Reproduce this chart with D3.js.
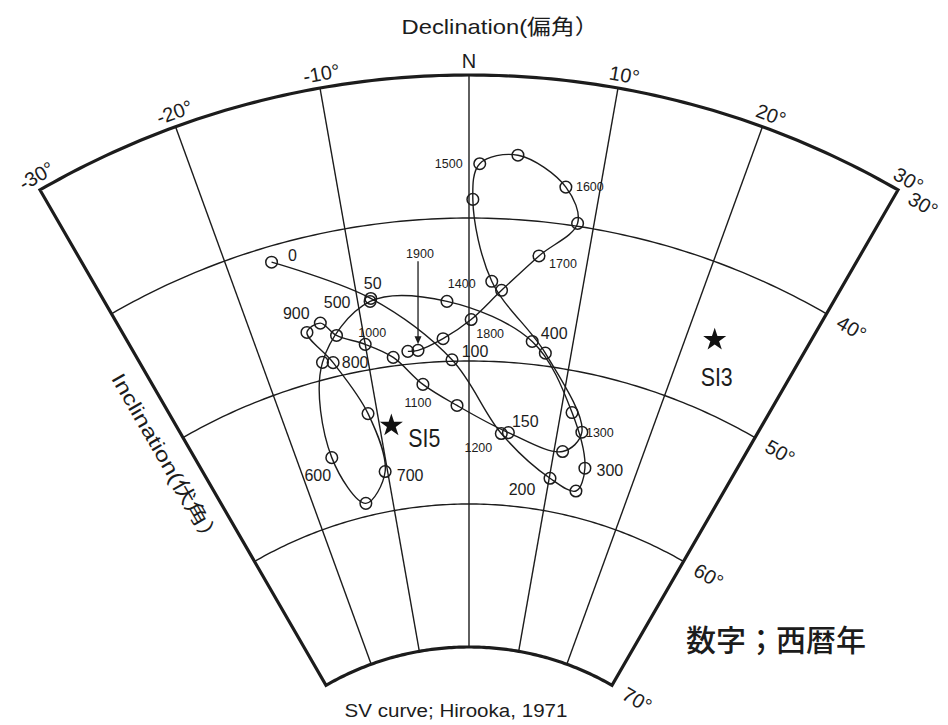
<!DOCTYPE html>
<html><head><meta charset="utf-8">
<script src="https://cdn.jsdelivr.net/npm/d3@7"></script>
<style>body{margin:0;background:#fff}svg{display:block}</style>
</head><body>
<svg id="chart" width="948" height="725"></svg>
<script>
// ---------- data ----------
const years = [0,50,100,150,200,250,300,350,400,450,500,550,600,650,700,750,800,850,900,950,
               1000,1050,1100,1150,1200,1250,1300,1350,1400,1450,1500,1550,1600,1650,1700,1750,1800,1850,1900,1950];
const declination = [-16.4,-8.8,-1.7,3.7,10.1,13.6,14.0,11.2,6.1,-2.0,-8.9,-14.4,-16.1,-13.5,-10.3,-11.0,-13.4,-15.1,-13.7,-12.5,
                     -10.0,-7.5,-4.8,-1.3,4.5,11.0,12.7,7.5,2.0,0.3,0.8,3.6,7.4,8.7,5.9,2.9,0.2,-2.5,-5.0,-6.0];
const inclination = [41.1,45.1,49.9,55.0,57.7,58.2,56.5,52.9,48.4,45.8,45.3,48.8,55.4,59.1,57.2,53.0,49.0,46.5,46.1,47.2,
                     48.2,49.4,51.5,53.1,54.9,55.7,54.1,49.1,44.4,38.7,36.2,35.5,37.4,39.8,42.4,45.0,47.1,48.4,49.1,49.1];
const labelYears = [0,50,100,150,200,300,400,500,600,700,800,900,1000,1100,1200,1300,1400,1500,1600,1700,1800];
const arrowYear = 1900;
const siteNames = ["SI5","SI3"];
const siteDeclination = [-8.7, 22.5];
const siteInclination = [54.1, 45.1];
const decTicks = [-30,-20,-10,0,10,20,30];
const incTicks = [30,40,50,60,70];

// ---------- layout ----------
const cx = 469, cy = 933;
const ang = d3.scaleLinear().domain([-30,30]).range([-Math.PI/6, Math.PI/6]);
const rad = d3.scaleLinear().domain([30,70]).range([858,286]);
const proj = (d,i,extra=0) => { const a = ang(d), r = rad(i)+extra; return [cx + r*Math.sin(a), cy - r*Math.cos(a)]; };
// label offsets (px) relative to the point, and size class
const labelLayout = {
  0:[21,-7,'b'],50:[2,-15,'b'],100:[23,-8,'b'],150:[24,-12,'b'],200:[-28,11,'b'],300:[25,2,'b'],
  400:[22,-8,'b'],500:[-33,1,'b'],600:[-14,18,'b'],700:[25,4,'b'],800:[22,0,'b'],900:[-24,-10,'b'],
  1000:[7,-12,'s'],1100:[-5,18,'s'],1200:[-30,15,'s'],1300:[18,0,'s'],1400:[-30,2,'s'],
  1500:[-31,0,'s'],1600:[24,0,'s'],1700:[24,8,'s'],1800:[19,14,'s']
};
const INK = "#1c1c1c";
const FONT = "'Liberation Sans', Arial, 'Noto Sans CJK JP', sans-serif";

const svg = d3.select("#chart");
svg.append("rect").attr("width",948).attr("height",725).attr("fill","#fff");
const g = svg.append("g");

const arcLine = d3.lineRadial().angle(d => ang(d[0])).radius(d => rad(d[1])).curve(d3.curveLinear);
const gridG = g.append("g").attr("transform",`translate(${cx},${cy})`);
const decSamples = d3.range(-30, 30.01, 0.5);

// inner arcs
[40,50,60].forEach(I => {
  gridG.append("path").attr("d", arcLine(decSamples.map(d => [d,I])))
    .attr("fill","none").attr("stroke",INK).attr("stroke-width",1.4);
});
// radials
[-20,-10,0,10,20].forEach(D => {
  gridG.append("path").attr("d", arcLine([[D,30],[D,70]]))
    .attr("fill","none").attr("stroke",INK).attr("stroke-width",1.4);
});
// frame
const framePts = decSamples.map(d => [d,30]).concat(decSamples.slice().reverse().map(d => [d,70]));
gridG.append("path").attr("d", arcLine(framePts) + "Z")
  .attr("fill","none").attr("stroke",INK).attr("stroke-width",3.2).attr("stroke-linejoin","miter");

// ---------- tick labels ----------
decTicks.forEach(D => {
  const a = ang(D);
  const [x,y] = proj(D,30,D===0?14:14);
  const sh = D===0 ? 0 : 4;
  const tx = x + sh*Math.cos(a), ty = y + sh*Math.sin(a);
  g.append("text").attr("transform",`translate(${tx},${ty}) rotate(${D===0?0:D})`)
    .attr("text-anchor","middle").attr("dy","0.35em")
    .attr("font-family",FONT).attr("font-size",20).attr("fill",INK)
    .text(D===0 ? "N" : `${D}°`);
});
incTicks.forEach(I => {
  const [x,y] = proj(30,I);
  const a = ang(30);
  const tx = x + 29*Math.cos(a), ty = y + 29*Math.sin(a);
  g.append("text").attr("transform",`translate(${tx},${ty}) rotate(30)`)
    .attr("text-anchor","middle").attr("dy","0.35em")
    .attr("font-family",FONT).attr("font-size",20).attr("fill",INK)
    .text(`${I}°`);
});

// axis titles
g.append("text").attr("x",500).attr("y",27).attr("dy","0.35em").attr("text-anchor","middle")
  .attr("font-family",FONT).attr("font-size",21).attr("fill",INK)
  .attr("textLength",197).attr("lengthAdjust","spacingAndGlyphs")
  .text("Declination(偏角）");
{
  const [ex,ey] = proj(-30,50.8);
  const a = ang(-30);
  const tx = ex - 26*Math.cos(a), ty = ey - 26*Math.sin(a);
  g.append("text").attr("transform",`translate(${tx},${ty}) rotate(60)`)
    .attr("text-anchor","middle").attr("dy","0.35em")
    .attr("font-family",FONT).attr("font-size",20).attr("fill",INK)
    .attr("textLength",198).attr("lengthAdjust","spacingAndGlyphs")
    .text("Inclination(伏角）");
}
g.append("text").attr("x",456).attr("y",711).attr("dy","0.35em").attr("text-anchor","middle")
  .attr("font-family",FONT).attr("font-size",18).attr("fill",INK)
  .attr("textLength",223).attr("lengthAdjust","spacingAndGlyphs")
  .text("SV curve; Hirooka, 1971");
g.append("text").attr("x",776).attr("y",640).attr("dy","0.35em").attr("text-anchor","middle")
  .attr("font-family","'Noto Sans CJK JP', sans-serif").attr("font-size",30).attr("fill",INK)
  .attr("font-weight",500)
  .text("数字；西暦年");

// ---------- SV curve ----------
const pts = years.map((y,i) => ({year:y, p:proj(declination[i], inclination[i])}));
const line = d3.line().x(d => d.p[0]).y(d => d.p[1]).curve(d3.curveCatmullRom.alpha(0.5));
g.append("path").attr("d", line(pts)).attr("fill","none").attr("stroke",INK).attr("stroke-width",1.4);
g.selectAll("circle.pt").data(pts).join("circle").attr("class","pt")
  .attr("cx",d => d.p[0]).attr("cy",d => d.p[1]).attr("r",5.8)
  .attr("fill","none").attr("stroke",INK).attr("stroke-width",1.5);

// year labels
pts.filter(d => labelYears.includes(d.year)).forEach(d => {
  const [dx,dy,sz] = labelLayout[d.year];
  g.append("text").attr("x",d.p[0]+dx).attr("y",d.p[1]+dy).attr("dy","0.35em")
    .attr("text-anchor","middle").attr("font-family",FONT)
    .attr("font-size", sz==='b'?16:12.5).attr("fill",INK).text(d.year);
});
// 1900 arrow
{
  const d = pts.find(q => q.year === arrowYear);
  const x = d.p[0], y = d.p[1];
  g.append("line").attr("x1",x).attr("x2",x).attr("y1",y-89).attr("y2",y-12)
    .attr("stroke",INK).attr("stroke-width",1.3);
  g.append("path").attr("d",`M${x-3.5},${y-14}L${x+3.5},${y-14}L${x},${y-6}Z`).attr("fill",INK);
  g.append("text").attr("x",x+2).attr("y",y-97).attr("dy","0.35em").attr("text-anchor","middle")
    .attr("font-family",FONT).attr("font-size",12.5).attr("fill",INK).text(arrowYear);
}

// ---------- sites ----------
siteNames.forEach((n,i) => {
  const [x,y] = proj(siteDeclination[i], siteInclination[i]);
  g.append("path").attr("d", d3.symbol(d3.symbolStar, 165)())
    .attr("transform",`translate(${x},${y})`).attr("fill","#111");
  const lx = i===0 ? x+33 : x+2, ly = i===0 ? y+12 : y+37;
  g.append("text").attr("x",lx).attr("y",ly).attr("dy","0.35em").attr("text-anchor","middle")
    .attr("font-family",FONT).attr("font-size",26).attr("fill",INK)
    .attr("textLength",32).attr("lengthAdjust","spacingAndGlyphs").text(n);
});
</script>
</body></html>
